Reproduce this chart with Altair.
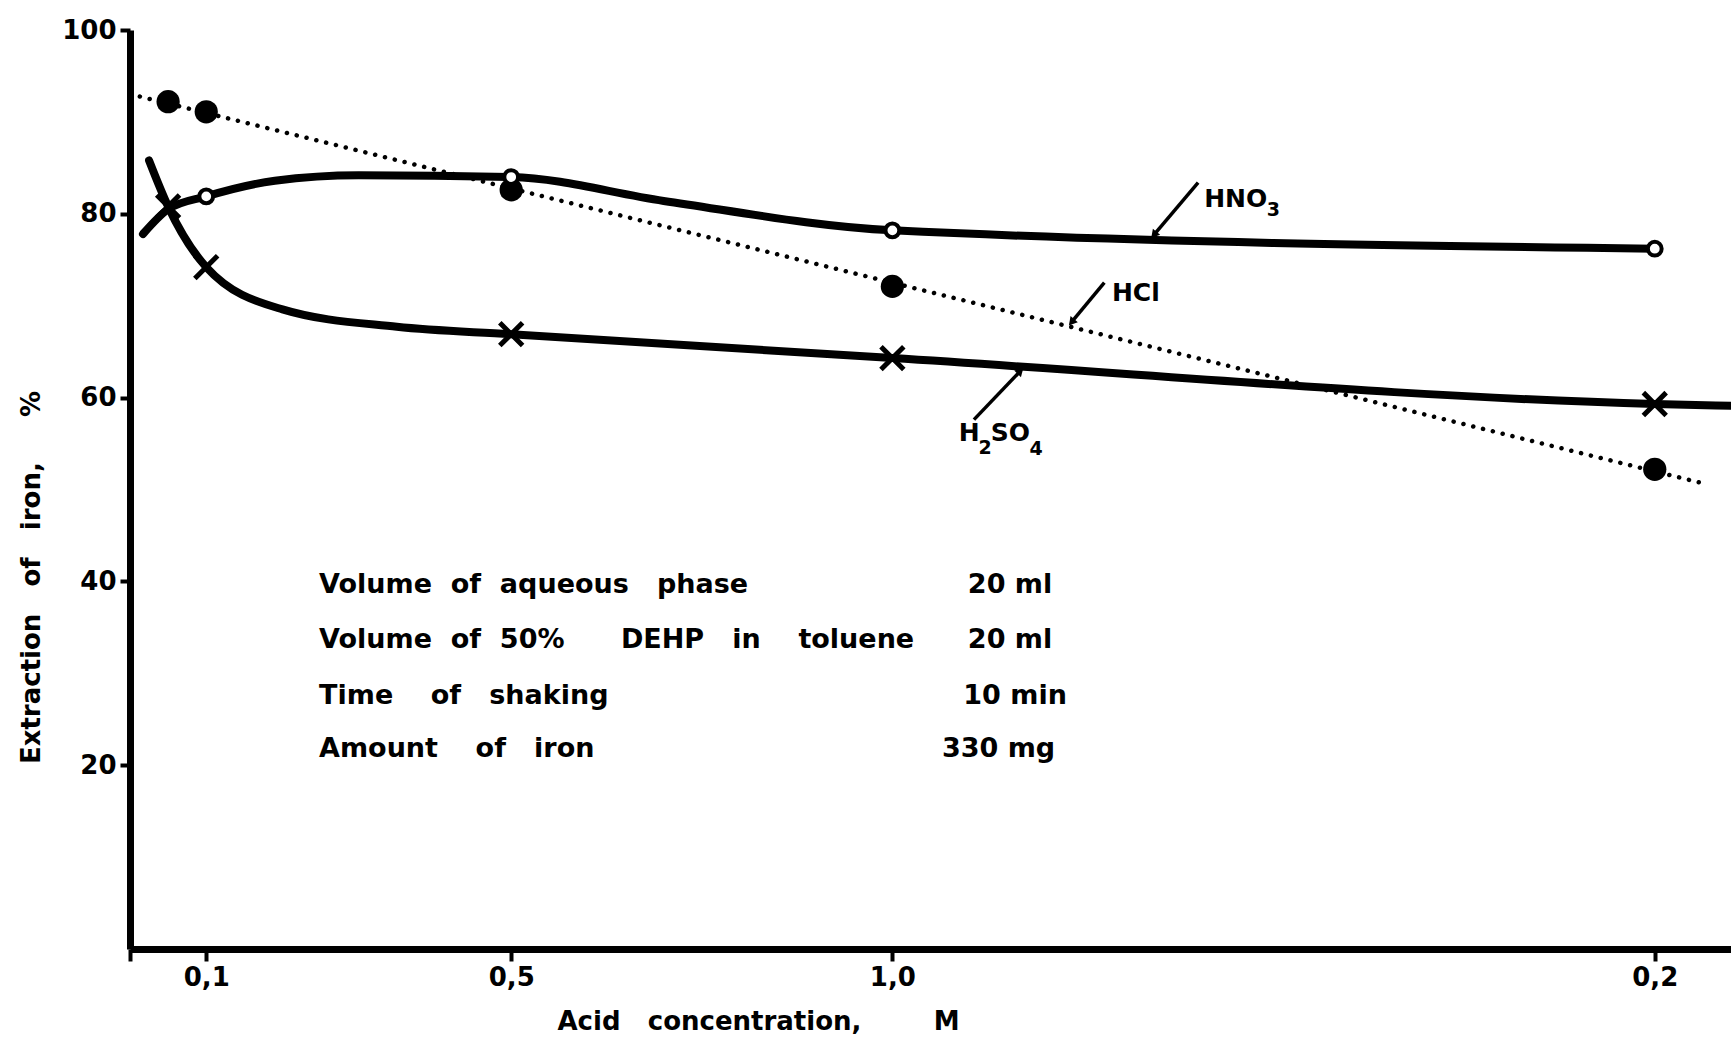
import altair as alt
import pandas as pd

# ---- data ----
hcl_x = [0.05, 0.1, 0.5, 1.0, 2.0]
hcl_y = [92.2, 91.1, 82.6, 72.1, 52.2]

hno3_x = [0.1, 0.5, 1.0, 2.0]
hno3_y = [81.9, 84.0, 78.2, 76.2]
hno3_curve_x = [0.017, 0.05, 0.1, 0.19, 0.3, 0.5, 0.7, 1.0, 2.0]
hno3_curve_y = [77.8, 80.5, 81.9, 83.6, 84.2, 84.0, 81.4, 78.2, 76.2]

h2so4_x = [0.05, 0.1, 0.5, 1.0, 2.0]
h2so4_y = [80.8, 74.2, 66.9, 64.3, 59.3]
h2so4_curve_x = [0.025, 0.05, 0.1, 0.2, 0.35, 0.5, 1.0, 2.0, 2.1]
h2so4_curve_y = [85.8, 80.8, 74.2, 69.6, 67.7, 66.9, 64.3, 59.3, 59.1]

hcl_fit_extent = [0.0, 2.064]

# curve labels, split into normal text and subscripts
frag_text = ["HNO", "3", "HCl", "H", "2", "SO", "4"]
frag_x = [1.409, 1.491, 1.288, 1.087, 1.113, 1.129, 1.180]
frag_y = [81.6, 80.4, 71.4, 56.1, 54.5, 56.1, 54.4]
frag_size = [25, 19, 25, 25, 19, 25, 19]

arrow_x = [1.401, 1.278, 1.107]
arrow_y = [83.4, 72.5, 57.6]
arrow_tip_x = [1.343, 1.235, 1.168]
arrow_tip_y = [77.7, 68.2, 62.9]
arrow_angle = [220, 220, 45]

NB = "\u00a0"
cond_left = [
    f"Volume{NB*2}of{NB*2}aqueous{NB*3}phase",
    f"Volume{NB*2}of{NB*2}50%{NB*6}DEHP{NB*3}in{NB*4}toluene",
    f"Time{NB*4}of{NB*3}shaking",
    f"Amount{NB*4}of{NB*3}iron",
]
cond_right = ["20 ml", "20 ml", "10 min", "330 mg"]
cond_left_x = [0.248, 0.248, 0.248, 0.248]
cond_right_x = [1.099, 1.099, 1.093, 1.065]
cond_y = [39.6, 33.6, 27.5, 21.8]

x_tick_values = [0, 0.1, 0.5, 1.0, 2.0]
x_tick_labels = ["", "0,1", "0,5", "1,0", "0,2"]
y_tick_values = [20, 40, 60, 80, 100]

FONT = "DejaVu Sans"
W, H = 1601, 919

label_expr = " : ".join(
    f"datum.value == {v} ? '{l}'" for v, l in zip(x_tick_values, x_tick_labels)
) + " : ''"

xs = alt.Scale(domain=[0, 2.1], nice=False, zero=False)
ys = alt.Scale(domain=[0, 100], nice=False)

x_axis = alt.Axis(
    values=x_tick_values, labelExpr=label_expr, grid=False,
    title=f"Acid{NB*3}concentration,{NB*8}M",
    titleX=427, titleY=72, titleBaseline="middle", titleAnchor="start",
    tickSize=12, tickWidth=4, domainWidth=7, labelPadding=3,
    labelFontSize=26, labelFont=FONT, labelFontWeight="bold",
    titleFontSize=26, titleFont=FONT, titleFontWeight="bold",
    domainColor="black", tickColor="black", labelColor="black", titleColor="black",
)
y_axis = alt.Axis(
    values=y_tick_values, grid=False,
    title=f"Extraction{NB*3}of{NB*3}iron,{NB*5}%",
    titleX=-99, titleY=547, titleBaseline="middle", titleAngle=270, titleAnchor="middle",
    tickSize=10, tickWidth=4, domainWidth=7, labelPadding=4,
    labelFontSize=26, labelFont=FONT, labelFontWeight="bold",
    titleFontSize=26, titleFont=FONT, titleFontWeight="bold",
    domainColor="black", tickColor="black", labelColor="black", titleColor="black",
)

hcl_df = pd.DataFrame({"x": hcl_x, "y": hcl_y})
hno3_df = pd.DataFrame({"x": hno3_x, "y": hno3_y})
hno3_c = pd.DataFrame({"x": hno3_curve_x, "y": hno3_curve_y})
h2so4_df = pd.DataFrame({"x": h2so4_x, "y": h2so4_y})
h2so4_c = pd.DataFrame({"x": h2so4_curve_x, "y": h2so4_curve_y})
arr_df = pd.DataFrame({"ax": arrow_x, "ay": arrow_y, "tx": arrow_tip_x, "ty": arrow_tip_y,
                       "ang": arrow_angle})
frag_df = pd.DataFrame({"t": frag_text, "x": frag_x, "y": frag_y, "s": frag_size})
cond_df = pd.DataFrame({"l": cond_left, "r": cond_right, "lx": cond_left_x,
                        "rx": cond_right_x, "y": cond_y})

X = lambda f="x": alt.X(f"{f}:Q", scale=xs, axis=x_axis)
Y = lambda f="y": alt.Y(f"{f}:Q", scale=ys, axis=y_axis)

fit = alt.Chart(hcl_df).transform_regression(
    "x", "y", extent=hcl_fit_extent
).mark_line(color="black", strokeWidth=4.5, strokeDash=[0.1, 10], strokeCap="round").encode(x=X(), y=Y())

hno3_line = alt.Chart(hno3_c).mark_line(
    color="black", strokeWidth=8, interpolate="monotone", strokeCap="round"
).encode(x=X(), y=Y())
h2so4_line = alt.Chart(h2so4_c).mark_line(
    color="black", strokeWidth=8, interpolate="monotone", strokeCap="round", clip=True
).encode(x=X(), y=Y())

hcl_pts = alt.Chart(hcl_df).mark_point(
    shape="circle", filled=True, color="black", size=540, opacity=1
).encode(x=X(), y=Y())
hno3_pts = alt.Chart(hno3_df).mark_point(
    shape="circle", filled=True, fill="white", stroke="black", strokeWidth=4, size=190, opacity=1
).encode(x=X(), y=Y())
h2so4_pts = alt.Chart(h2so4_df).mark_point(
    shape="M-1,-1L1,1M-1,1L1,-1", filled=False, color="black", strokeWidth=5, size=520, opacity=1
).encode(x=X(), y=Y())

arrows = alt.Chart(arr_df).mark_rule(color="black", strokeWidth=3.5).encode(
    x=X("ax"), y=Y("ay"), x2="tx:Q", y2="ty:Q")
heads = alt.Chart(arr_df).mark_point(
    shape="triangle-up", filled=True, color="black", size=90, opacity=1
).encode(x=X("tx"), y=Y("ty"), angle=alt.Angle("ang:Q", scale=None))
labels = alt.Chart(frag_df).mark_text(
    align="left", baseline="middle", font=FONT, fontWeight="bold", color="black"
).encode(x=X(), y=Y(), text="t:N", size=alt.Size("s:Q", scale=None))

cond_l = alt.Chart(cond_df).mark_text(
    align="left", baseline="middle", font=FONT, fontSize=27, fontWeight="bold", color="black"
).encode(x=X("lx"), y=Y(), text="l:N")
cond_r = alt.Chart(cond_df).mark_text(
    align="left", baseline="middle", font=FONT, fontSize=27, fontWeight="bold", color="black"
).encode(x=X("rx"), y=Y(), text="r:N")

chart = alt.layer(
    fit, hno3_line, h2so4_line, hcl_pts, hno3_pts, h2so4_pts,
    arrows, heads, labels, cond_l, cond_r
).properties(
    width=W, height=H,
    autosize=alt.AutoSizeParams(type="none"),
    padding={"left": 130, "top": 30, "right": 0, "bottom": 89},
    background="white",
).configure_view(stroke=None)

chart.save("out.html", embed_options={"renderer": "svg", "actions": False})
